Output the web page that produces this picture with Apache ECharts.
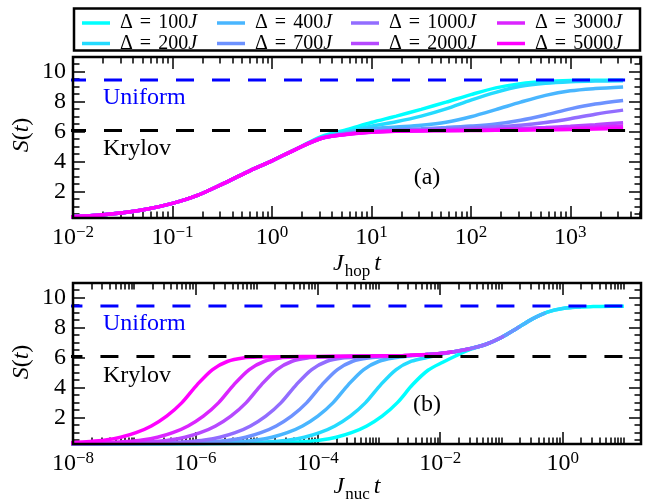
<!DOCTYPE html>
<html>
<head>
<meta charset="utf-8">
<script src="https://cdn.jsdelivr.net/npm/echarts@6.0.0/dist/echarts.min.js"></script>
<style>
html,body{margin:0;padding:0;background:#fff;}
#chart{width:647px;height:504px;}
</style>
</head>
<body>
<div id="chart"></div>
<script>
const SERIF = '"Liberation Serif","DejaVu Serif",serif';

// ---------------- DATA ----------------
const deltaValues = [100, 200, 400, 700, 1000, 2000, 3000, 5000];
const seriesColors = ['#00ffff', '#24dbff', '#49b6ff', '#6d92ff', '#926dff', '#b649ff', '#db24ff', '#ff00ff'];

// Panel (a): x = log10(J_hop t)
const logTa = [-2.05,-1.75,-1.5,-1.25,-1,-0.75,-0.5,-0.25,0,0.25,0.5,0.75,1,1.25,1.5,1.75,2,2.25,2.5,2.75,3,3.25,3.53];
const Sa100  = [0.33,0.44,0.6,0.85,1.22,1.75,2.5,3.3,4.05,4.85,5.68,6.12,6.6,7.02,7.47,7.95,8.45,8.9,9.18,9.32,9.38,9.4,9.4];
const Sa200  = [0.33,0.44,0.6,0.85,1.22,1.75,2.5,3.3,4.05,4.85,5.62,5.98,6.35,6.65,7.02,7.5,8.08,8.6,9.0,9.2,9.3,9.35,9.37];
const Sa400  = [0.33,0.44,0.6,0.85,1.22,1.75,2.5,3.3,4.05,4.85,5.6,5.92,6.18,6.3,6.42,6.62,6.98,7.45,7.95,8.4,8.7,8.85,8.96];
const Sa700  = [0.33,0.44,0.6,0.85,1.22,1.75,2.5,3.3,4.05,4.85,5.57,5.85,6.05,6.12,6.18,6.26,6.36,6.5,6.75,7.1,7.5,7.82,8.06];
const Sa1000 = [0.33,0.44,0.6,0.85,1.22,1.75,2.5,3.3,4.05,4.85,5.56,5.83,6.0,6.07,6.12,6.17,6.23,6.31,6.42,6.6,6.85,7.15,7.42];
const Sa2000 = [0.33,0.44,0.6,0.85,1.22,1.75,2.5,3.3,4.05,4.85,5.55,5.82,5.97,6.03,6.06,6.09,6.12,6.15,6.2,6.26,6.34,6.45,6.58];
const Sa3000 = [0.33,0.44,0.6,0.85,1.22,1.75,2.5,3.3,4.05,4.85,5.55,5.81,5.96,6.02,6.05,6.07,6.09,6.11,6.14,6.18,6.22,6.28,6.36];
const Sa5000 = [0.33,0.44,0.6,0.85,1.22,1.75,2.5,3.3,4.05,4.85,5.55,5.8,5.95,6.01,6.03,6.05,6.06,6.08,6.09,6.11,6.13,6.16,6.2];

// Panel (b): x = log10(J_nuc t), one x list per curve
const logTb100  = [-8.15,-7,-6,-5.2,-4.6,-4.2,-3.95,-3.7,-3.45,-3.2,-2.95,-2.7,-2.45,-2.2,-1.95,-1.75,-1.5,-1.25,-1,-0.75,-0.5,-0.25,0,0.25,0.5,0.8,1.0];
const Sb100     = [0.25,0.26,0.27,0.29,0.32,0.42,0.52,0.7,1.0,1.45,2.1,3.0,4.2,5.15,5.7,6.1,6.55,6.88,7.33,7.93,8.55,9.02,9.26,9.35,9.38,9.4,9.4];
const logTb200  = [-8.15,-7,-6,-5.12,-4.72,-4.47,-4.22,-3.97,-3.72,-3.47,-3.22,-2.97,-2.72,-2.47,-2.22,-2,-1.75,-1.5,-1.25,-1,-0.75,-0.5,-0.25,0,0.3];
const Sb200     = [0.25,0.26,0.28,0.32,0.42,0.52,0.7,1.0,1.45,2.1,3.0,4.2,5.2,5.75,6.0,6.2,6.4,6.6,6.88,7.33,7.93,8.55,9.02,9.26,9.36];
const logTb400  = [-8.15,-7,-6.3,-5.65,-5.25,-5,-4.75,-4.5,-4.25,-4,-3.75,-3.5,-3.25,-3,-2.75,-2.5,-2.25,-2,-1.75,-1.5,-1.25,-1,-0.75,-0.5,-0.28];
const Sb400     = [0.25,0.26,0.28,0.32,0.42,0.52,0.7,1.0,1.45,2.1,3.0,4.2,5.2,5.75,5.98,6.1,6.19,6.27,6.4,6.6,6.88,7.33,7.93,8.55,8.96];
const logTb700  = [-8.15,-7.2,-6.6,-6.08,-5.68,-5.43,-5.18,-4.93,-4.68,-4.43,-4.18,-3.93,-3.68,-3.43,-3.18,-2.93,-2.5,-2.25,-2,-1.75,-1.5,-1.25,-1,-0.7];
const Sb700     = [0.25,0.26,0.28,0.32,0.42,0.52,0.7,1.0,1.45,2.1,3.0,4.2,5.2,5.75,5.97,6.04,6.13,6.19,6.27,6.4,6.6,6.88,7.33,8.06];
const logTb1000 = [-8.15,-7.5,-7,-6.5,-6.1,-5.85,-5.6,-5.35,-5.1,-4.85,-4.6,-4.35,-4.1,-3.85,-3.6,-3.35,-3,-2.5,-2.25,-2,-1.75,-1.5,-1.25,-0.96];
const Sb1000    = [0.26,0.27,0.29,0.32,0.42,0.52,0.7,1.0,1.45,2.1,3.0,4.2,5.2,5.75,5.97,6.03,6.08,6.13,6.19,6.27,6.4,6.6,6.88,7.42];
const logTb2000 = [-8.15,-7.6,-7.07,-6.67,-6.42,-6.17,-5.92,-5.67,-5.42,-5.17,-4.92,-4.67,-4.42,-4.17,-3.92,-3.5,-3,-2.5,-2.25,-2,-1.75,-1.52];
const Sb2000    = [0.27,0.29,0.32,0.42,0.52,0.7,1.0,1.45,2.1,3.0,4.2,5.2,5.75,5.97,6.03,6.06,6.1,6.14,6.19,6.27,6.4,6.58];
const logTb3000 = [-8.15,-7.52,-7.12,-6.87,-6.62,-6.37,-6.12,-5.87,-5.62,-5.37,-5.12,-4.87,-4.62,-4.37,-4,-3.5,-3,-2.5,-2.25,-2,-1.8];
const Sb3000    = [0.28,0.32,0.42,0.52,0.7,1.0,1.45,2.1,3.0,4.2,5.2,5.75,5.97,6.03,6.05,6.08,6.11,6.14,6.19,6.27,6.36];
const logTb5000 = [-8.15,-7.72,-7.47,-7.22,-6.97,-6.72,-6.47,-6.22,-5.97,-5.72,-5.47,-5.22,-4.97,-4.5,-4,-3.5,-3,-2.6,-2.2];
const Sb5000    = [0.31,0.42,0.52,0.7,1.0,1.45,2.1,3.0,4.2,5.2,5.75,5.97,6.03,6.05,6.07,6.09,6.11,6.14,6.2];

// Reference levels
const uniformLevel = 9.42;
const krylovLevel = 6.07;
const refSpanA = [-2.05, 3.55];
const refSpanB = [-8.14, 1.0];

// Ticks (x in decades)
const xMajorA = [-2, -1, 0, 1, 2, 3];
const xLabelA = [-2, -1, 0, 1, 2, 3];
const xMajorB = [-8, -6, -4, -2, 0];
const xLabelB = [-8, -6, -4, -2, 0];
const yMajor = [2, 4, 6, 8, 10];
const yLabels = [2, 4, 6, 8, 10];
const yMinor = [0.5,1,1.5,2.5,3,3.5,4.5,5,5.5,6.5,7,7.5,8.5,9,9.5,10.5];

// ---------------- BUILD ----------------
const SaAll = [Sa100, Sa200, Sa400, Sa700, Sa1000, Sa2000, Sa3000, Sa5000];
const bX = [logTb100, logTb200, logTb400, logTb700, logTb1000, logTb2000, logTb3000, logTb5000];
const bS = [Sb100, Sb200, Sb400, Sb700, Sb1000, Sb2000, Sb3000, Sb5000];
const names = deltaValues.map(d => 'Δ = ' + d + 'J');

function logMinors(n0, n1, max, includeDecades) {
  const out = [];
  for (let n = n0; n <= n1; n++) {
    if (includeDecades && includeDecades.indexOf(n) >= 0) out.push(n);
    for (let k = 2; k <= 9; k++) {
      const v = n + Math.log10(k);
      if (v < max) out.push(v);
    }
  }
  return out;
}
const xMinorA = logMinors(-2, 3, 3.71, null);
const xMinorB = logMinors(-8, 1, 1.28, [-7, -5, -3, -1, 1]);

const GRID_A = {left: 73, right: 6, top: 57, height: 161};
const GRID_B = {left: 73, right: 6, top: 283, height: 161};
const YMIN = 0.25, YMAX = 10.95;

const tickStyle = {color: '#000', width: 1.5};
function expText(v) { return v < 0 ? '\u2212' + (-v) : String(v); }
const xRich = {
  b: {fontSize: 24, fontFamily: SERIF, color: '#000', lineHeight: 26, verticalAlign: 'bottom'},
  s: {fontSize: 17, fontFamily: SERIF, color: '#000', lineHeight: 16, verticalAlign: 'top'}
};

function makeXAxes(gi, min, max, majors, labels, minors) {
  const base = {gridIndex: gi, type: 'value', min: min, max: max,
    splitLine: {show: false}, axisLine: {show: false, onZero: false}};
  const off = {show: false};
  return [
    Object.assign({}, base, {position: 'bottom',
      axisTick: {show: true, inside: true, length: 12, customValues: majors, lineStyle: tickStyle},
      axisLabel: {show: true, customValues: labels, margin: 6,
        formatter: v => '{b|10}{s|' + expText(Math.round(v)) + '}', rich: xRich}}),
    Object.assign({}, base, {position: 'bottom',
      axisTick: {show: true, inside: true, length: 6.5, customValues: minors, lineStyle: tickStyle},
      axisLabel: off}),
    Object.assign({}, base, {position: 'top',
      axisTick: {show: true, inside: true, length: 12, customValues: majors, lineStyle: tickStyle},
      axisLabel: off}),
    Object.assign({}, base, {position: 'top',
      axisTick: {show: true, inside: true, length: 6.5, customValues: minors, lineStyle: tickStyle},
      axisLabel: off})
  ];
}
function makeYAxes(gi) {
  const base = {gridIndex: gi, type: 'value', min: YMIN, max: YMAX,
    splitLine: {show: false}, axisLine: {show: false, onZero: false}};
  const off = {show: false};
  return [
    Object.assign({}, base, {position: 'left',
      axisTick: {show: true, inside: true, length: 12, customValues: yMajor, lineStyle: tickStyle},
      axisLabel: {show: true, customValues: yLabels, margin: 7, fontSize: 24, fontFamily: SERIF, color: '#000'}}),
    Object.assign({}, base, {position: 'left',
      axisTick: {show: true, inside: true, length: 6.5, customValues: yMinor, lineStyle: tickStyle},
      axisLabel: off}),
    Object.assign({}, base, {position: 'right',
      axisTick: {show: true, inside: true, length: 12, customValues: yMajor, lineStyle: tickStyle},
      axisLabel: off}),
    Object.assign({}, base, {position: 'right',
      axisTick: {show: true, inside: true, length: 6.5, customValues: yMinor, lineStyle: tickStyle},
      axisLabel: off})
  ];
}

const curveBase = {type: 'line', symbol: 'none', showSymbol: false, smooth: 0.3,
  emphasis: {disabled: true}, animation: false};
const series = [];
names.forEach((nm, i) => {
  series.push(Object.assign({}, curveBase, {name: nm, xAxisIndex: 0, yAxisIndex: 0, z: 3,
    data: logTa.map((x, j) => [x, SaAll[i][j]]),
    lineStyle: {width: 3.5, color: seriesColors[i]}, itemStyle: {color: seriesColors[i]}}));
  series.push(Object.assign({}, curveBase, {name: nm, xAxisIndex: 4, yAxisIndex: 4, z: 3,
    data: bX[i].map((x, j) => [x, bS[i][j]]),
    lineStyle: {width: 3.5, color: seriesColors[i]}, itemStyle: {color: seriesColors[i]}}));
});
function refLine(xi, span, level, color) {
  return {type: 'line', xAxisIndex: xi, yAxisIndex: xi, symbol: 'none', silent: true, z: 4, animation: false,
    data: [[span[0], level], [span[1], level]],
    lineStyle: {color: color, width: 3, type: [18, 18]}};
}
series.push(refLine(0, refSpanA, uniformLevel, '#0000ff'));
series.push(refLine(0, refSpanA, krylovLevel, '#000000'));
series.push(refLine(4, refSpanB, uniformLevel, '#0000ff'));
series.push(refLine(4, refSpanB, krylovLevel, '#000000'));

const legendCols = [82, 217, 351, 497];
const legendRich = {
  d: {fontSize: 20, fontFamily: SERIF, color: '#000', padding: [0, 0, 0, 5]},
  e: {fontSize: 20, fontFamily: SERIF, color: '#000', padding: [0, 7, 0, 7]},
  n: {fontSize: 20, fontFamily: SERIF, color: '#000'},
  j: {fontSize: 20, fontFamily: SERIF, color: '#000', fontStyle: 'italic'}
};
const legends = legendCols.map((lx, c) => ({
  data: [names[2 * c], names[2 * c + 1]], orient: 'vertical', left: lx, top: 13,
  itemGap: 0.5, itemWidth: 28, itemHeight: 3.5, icon: 'rect', padding: 0, selectedMode: false,
  formatter: nm => '{d|Δ}{e|=}{n|' + nm.replace(/\D/g, '') + '}{j|J}',
  textStyle: {lineHeight: 16, rich: legendRich}
}));

function label(x, y, txt, color, align) {
  return {type: 'text', x: x, y: y, z: 50, silent: true,
    style: {text: txt, fill: color, fontSize: 24, fontFamily: SERIF,
      align: align || 'left', verticalAlign: 'middle', textAlign: align || 'left', textVerticalAlign: 'middle'}};
}
const sRich = {
  i: {fontSize: 24, fontFamily: SERIF, fontStyle: 'italic', color: '#000'},
  r: {fontSize: 24, fontFamily: SERIF, color: '#000'}
};
function yName(y) {
  return {type: 'text', x: 22, y: y, rotation: Math.PI / 2, z: 50, silent: true,
    style: {text: '{i|S}{r|(}{i|t}{r|)}', rich: sRich, align: 'center', verticalAlign: 'middle',
      textAlign: 'center', textVerticalAlign: 'middle'}};
}
const jRich = {
  i: {fontSize: 24, fontFamily: SERIF, fontStyle: 'italic', color: '#000', lineHeight: 28, verticalAlign: 'top'},
  s: {fontSize: 17, fontFamily: SERIF, color: '#000', lineHeight: 16, verticalAlign: 'bottom', padding: [0, 4, 0, 1]}
};
function xName(y, sub) {
  return {type: 'text', x: 357, y: y, z: 50, silent: true,
    style: {text: '{i|J}{s|' + sub + '}{i|t}', rich: jRich, align: 'center', verticalAlign: 'middle',
      textAlign: 'center', textVerticalAlign: 'middle'}};
}

const option = {
  animation: false,
  backgroundColor: '#fff',
  grid: [
    Object.assign({show: true, borderColor: '#000', borderWidth: 2.5, backgroundColor: 'transparent', z: 10}, GRID_A),
    Object.assign({show: true, borderColor: '#000', borderWidth: 2.5, backgroundColor: 'transparent', z: 10}, GRID_B)
  ],
  xAxis: makeXAxes(0, -2, 3.71, xMajorA, xLabelA, xMinorA).concat(makeXAxes(1, -8, 1.28, xMajorB, xLabelB, xMinorB)),
  yAxis: makeYAxes(0).concat(makeYAxes(1)),
  legend: legends,
  series: series,
  graphic: [
    {type: 'rect', z: 40, silent: true, shape: {x: 74, y: 8.5, width: 566, height: 42},
      style: {fill: 'none', stroke: '#000', lineWidth: 2.5}},
    label(103, 98, 'Uniform', '#0000ff'),
    label(103, 149, 'Krylov', '#000'),
    label(427, 178, '(a)', '#000', 'center'),
    label(103, 324, 'Uniform', '#0000ff'),
    label(103, 376, 'Krylov', '#000'),
    label(427, 405, '(b)', '#000', 'center'),
    yName(135), yName(362),
    xName(266, 'hop'), xName(489, 'nuc')
  ]
};

const chart = echarts.init(document.getElementById('chart'), null, {renderer: 'canvas'});
chart.setOption(option);
</script>
</body>
</html>
